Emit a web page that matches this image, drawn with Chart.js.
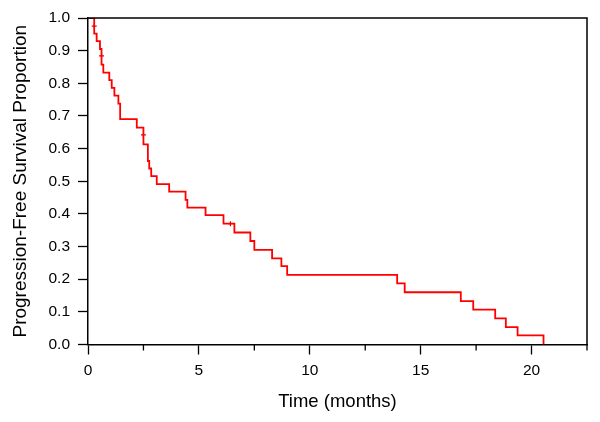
<!DOCTYPE html>
<html>
<head>
<meta charset="utf-8">
<script src="https://cdn.jsdelivr.net/npm/chart.js@4.4.0/dist/chart.umd.min.js"></script>
<style>
  html, body { margin: 0; padding: 0; background: #fff; }
  #wrap { width: 600px; height: 422px; }
</style>
</head>
<body>
<div id="wrap"><canvas id="kmChart"></canvas></div>
<script>
// Время событий (месяцы) и доля без прогрессии после каждого шага
const eventTimes = [0, 0.28, 0.39, 0.54, 0.61, 0.69, 0.96, 1.07, 1.19, 1.37, 1.45, 2.2, 2.5, 2.7, 2.76, 2.85, 3.1, 3.66, 4.4, 4.48, 5.3, 6.11, 6.6, 7.32, 7.5, 8.3, 8.72, 8.98, 13.94, 14.28, 16.81, 17.37, 18.36, 18.84, 19.37, 20.54];
const survival = [1.0, 0.952, 0.929, 0.905, 0.857, 0.833, 0.81, 0.786, 0.762, 0.738, 0.69, 0.664, 0.613, 0.562, 0.539, 0.516, 0.491, 0.468, 0.443, 0.419, 0.396, 0.370, 0.343, 0.317, 0.290, 0.264, 0.240, 0.213, 0.187, 0.160, 0.133, 0.107, 0.080, 0.053, 0.028, 0.0];

// Цензурированные наблюдения
const censorTimes = [0.28, 0.61, 2.5, 6.42];
const censorValues = [0.975, 0.884, 0.642, 0.370];

const xMax = 22.5;
const yTicks = [0, 0.1, 0.2, 0.3, 0.4, 0.5, 0.6, 0.7, 0.8, 0.9, 1.0];

const FONT = '"Liberation Sans", Arial, Helvetica, sans-serif';

// Рамка сверху/справа и малые деления по оси X
const framePlugin = {
    id: 'frame',
    afterDraw(chart) {
        const { ctx, chartArea } = chart;
        const xs = chart.scales.x;
        ctx.save();
        ctx.strokeStyle = '#000';
        ctx.lineWidth = 1.5;
        ctx.beginPath();
        ctx.moveTo(chartArea.left, chartArea.top);
        ctx.lineTo(chartArea.right, chartArea.top);
        ctx.lineTo(chartArea.right, chartArea.bottom);
        ctx.stroke();
        ctx.lineWidth = 1.3;
        xs.ticks.forEach(t => {
            if (t.value % 5 !== 0) {
                const px = xs.getPixelForValue(t.value);
                ctx.beginPath();
                ctx.moveTo(px, chartArea.bottom);
                ctx.lineTo(px, chartArea.bottom + 6);
                ctx.stroke();
            }
        });
        ctx.restore();
    }
};

const curve = eventTimes.map((t, i) => ({ x: t, y: survival[i] }));
const censored = censorTimes.map((t, i) => ({ x: t, y: censorValues[i] }));

new Chart(document.getElementById('kmChart').getContext('2d'), {
    type: 'line',
    data: {
        datasets: [{
            label: 'PFS',
            data: curve,
            stepped: 'before',
            borderColor: '#ff0000',
            borderWidth: 1.8,
            pointRadius: 0,
            fill: false
        }, {
            label: 'censored',
            type: 'scatter',
            data: censored,
            pointStyle: 'cross',
            pointRadius: 2.5,
            borderColor: '#e00000',
            borderWidth: 1.2
        }]
    },
    options: {
        responsive: true,
        maintainAspectRatio: false,
        animation: false,
        layout: { padding: { left: 0, right: 13, top: 18, bottom: 0 } },
        plugins: {
            legend: { display: false },
            tooltip: { enabled: false }
        },
        scales: {
            x: {
                type: 'linear',
                min: 0,
                max: xMax,
                afterFit(scale) { scale.height = 77.5; },
                ticks: {
                    stepSize: 2.5,
                    autoSkip: false,
                    maxRotation: 0,
                    padding: 7,
                    color: '#000',
                    font: { family: FONT, size: 15.5 },
                    callback: v => (v % 5 === 0 ? String(v) : '')
                },
                grid: {
                    drawOnChartArea: false,
                    tickLength: 10,
                    tickWidth: 1.3,
                    tickColor: c => (c.tick && c.tick.value % 5 === 0 ? '#000' : 'rgba(0,0,0,0)')
                },
                border: { display: true, color: '#000', width: 1.5 },
                title: {
                    display: true,
                    text: 'Time (months)',
                    color: '#000',
                    font: { family: FONT, size: 18.5 },
                    padding: { top: 2, bottom: 9 }
                }
            },
            y: {
                min: 0,
                max: 1,
                afterFit(scale) { scale.width = 88; },
                afterBuildTicks(scale) { scale.ticks = yTicks.map(v => ({ value: v })); },
                ticks: {
                    padding: 8,
                    color: '#000',
                    font: { family: FONT, size: 15.5 },
                    callback: v => v.toFixed(1)
                },
                grid: {
                    drawOnChartArea: false,
                    tickLength: 10,
                    tickWidth: 1.3,
                    tickColor: '#000'
                },
                border: { display: true, color: '#000', width: 1.5 },
                title: {
                    display: true,
                    text: 'Progression-Free Survival Proportion',
                    color: '#000',
                    font: { family: FONT, size: 19 },
                    padding: { top: 9, bottom: 2 }
                }
            }
        }
    },
    plugins: [framePlugin]
});
</script>
</body>
</html>
